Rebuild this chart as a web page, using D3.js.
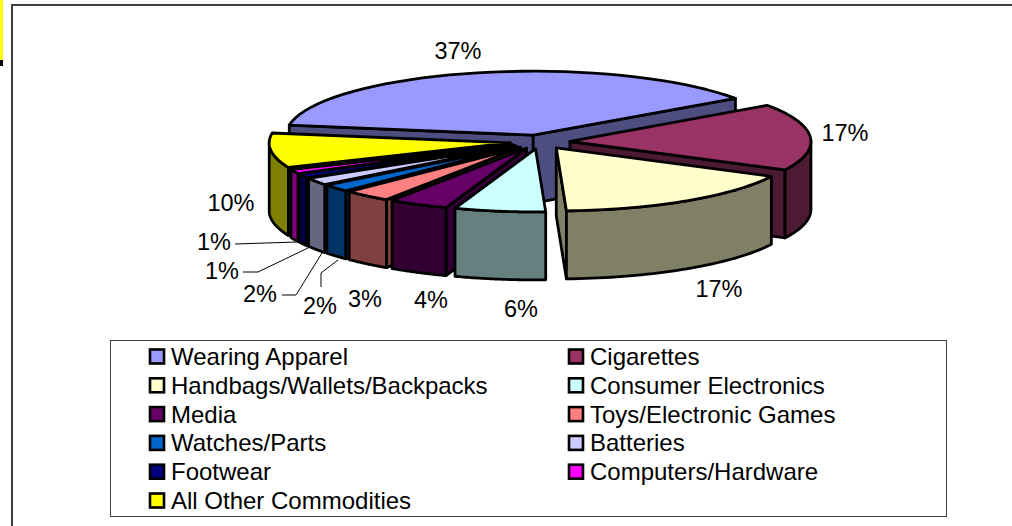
<!DOCTYPE html>
<html>
<head>
<meta charset="utf-8">
<script src="https://cdn.jsdelivr.net/npm/d3@7"></script>
<style>
  html, body { margin: 0; padding: 0; background: #fff; overflow: hidden; }
  text { font-family: "Liberation Sans", Arial, sans-serif; fill: #000; }
</style>
</head>
<body>
<script>
// chart data
const categories = ["Wearing Apparel", "Cigarettes", "Handbags/Wallets/Backpacks", "Consumer Electronics",
  "Media", "Toys/Electronic Games", "Watches/Parts", "Batteries", "Footwear", "Computers/Hardware",
  "All Other Commodities"];
// sizes as drawn on the pie, the printed labels are below
const shares = [37.8, 17.2, 16.9, 6.1, 4.0, 3.2, 1.9, 1.9, 1.1, 1.1, 8.9];
const shareLabels = ["37%", "17%", "17%", "6%", "4%", "3%", "2%", "2%", "1%", "1%", "10%"];
const topColors = ["#9999FF", "#993366", "#FFFFCC", "#CCFFFF", "#660066", "#FF8080", "#0066CC", "#CCCCFF", "#000080", "#FF00FF", "#FFFF00"];

const width = 1012, height = 526;
const cx = 540, cy = 142;      // pie centre
const rx = 241, ry = 63;       // top face ellipse
const depth = 68;              // wall height
const explodeX = 30, explodeY = 7;

let svg = d3.select("body").append("svg")
  .attr("width", width)
  .attr("height", height)
  .style("display", "block");

// bits of the slide behind the chart
svg.append("rect").attr("x", 0).attr("y", 0).attr("width", 3).attr("height", 60).attr("fill", "#FFFF00");
svg.append("rect").attr("x", 0).attr("y", 60).attr("width", 3).attr("height", 6).attr("fill", "#000");

// chart frame
svg.append("path")
  .attr("d", `M12,${height}V5H${width}`)
  .attr("fill", "none")
  .attr("stroke", "#404040")
  .attr("stroke-width", 2);

const rad = d => d * Math.PI / 180;

let pie = d3.pie()
  .sort(null)
  .value(d => d)
  .startAngle(rad(-81))
  .endAngle(rad(279));

let slices = pie(shares).map((s, i) => {
  let mid = (s.startAngle + s.endAngle) / 2;
  return {
    i: i,
    a0: s.startAngle,
    a1: s.endAngle,
    mid: mid,
    // the big slice is a touch wider in the original
    rx: i === 0 ? 247 : rx,
    ry: i === 0 ? 64 : ry,
    ox: cx + explodeX * Math.sin(mid),
    oy: cy - explodeY * Math.cos(mid)
  };
});

const outer = (s, a, drop) => [s.ox + s.rx * Math.sin(a), s.oy - s.ry * Math.cos(a) + (drop || 0)];
const arcPts = (s, a0, a1, drop) =>
  d3.range(0, 41).map(k => outer(s, a0 + (a1 - a0) * k / 40, drop));
const line = d3.line();

// back to front so the nearer slices cover the others
slices.sort((p, q) => d3.ascending(-Math.cos(p.mid), -Math.cos(q.mid)));

let pieG = svg.append("g")
  .attr("stroke", "#000")
  .attr("stroke-width", 2.8)
  .attr("stroke-linejoin", "round");

slices.forEach(s => {
  let top = d3.color(topColors[s.i]);
  let side = d3.rgb(top.r / 2, top.g / 2, top.b / 2).formatHex();
  let g = pieG.append("g");

  // radial walls that face the viewer
  let edges = [];
  if (Math.sin(s.a0) < 0) edges.push(s.a0);
  if (Math.sin(s.a1) > 0) edges.push(s.a1);
  edges.forEach(a => {
    let o = outer(s, a);
    g.append("path")
      .attr("d", line([[s.ox, s.oy], o, [o[0], o[1] + depth], [s.ox, s.oy + depth]]) + "Z")
      .attr("fill", side);
  });

  // rim, only the part on the near side
  let from = Math.max(s.a0, Math.PI / 2), to = Math.min(s.a1, Math.PI * 1.5);
  if (from < to) {
    let pts = arcPts(s, from, to).concat(arcPts(s, to, from, depth));
    g.append("path").attr("d", line(pts) + "Z").attr("fill", side);
  }

  // top face
  g.append("path")
    .attr("d", line([[s.ox, s.oy]].concat(arcPts(s, s.a0, s.a1))) + "Z")
    .attr("fill", top.formatHex());
});

// data labels, placed by hand like the original
const labelSpots = [[458, 51], [845, 133], [719, 289], [521, 309], [431, 300], [365, 299],
  [320, 306], [260, 294], [222, 271], [214, 242], [231, 203]];

svg.append("g").selectAll("text")
  .data(shareLabels)
  .join("text")
  .attr("x", (d, i) => labelSpots[i][0])
  .attr("y", (d, i) => labelSpots[i][1])
  .attr("text-anchor", "middle")
  .attr("dominant-baseline", "central")
  .attr("font-size", 23.5)
  .text(d => d);

// leader lines for the small slices
const leaders = [
  [[321, 287], [321, 273], [338, 260]],
  [[282, 295], [296, 295], [322, 253]],
  [[243, 272], [258, 272], [308, 248]],
  [[235, 244], [297, 242]]
];
svg.append("g").selectAll("path")
  .data(leaders)
  .join("path")
  .attr("d", line)
  .attr("fill", "none")
  .attr("stroke", "#000")
  .attr("stroke-width", 1);

// legend
svg.append("rect")
  .attr("x", 110.5).attr("y", 340.5)
  .attr("width", 836).attr("height", 176)
  .attr("fill", "#fff")
  .attr("stroke", "#404040")
  .attr("stroke-width", 1);

const col = d3.scaleOrdinal().domain([0, 1]).range([150, 569]);
const row = d3.scaleLinear().domain([0, 5]).range([356.5, 500.5]);

let items = svg.append("g").selectAll("g")
  .data(categories)
  .join("g")
  .attr("transform", (d, i) => `translate(${col(i % 2)},${row(Math.floor(i / 2))})`);

items.append("rect")
  .attr("x", 0).attr("y", -7)
  .attr("width", 14).attr("height", 14)
  .attr("fill", (d, i) => topColors[i])
  .attr("stroke", "#000")
  .attr("stroke-width", 2.6);

items.append("text")
  .attr("x", 21)
  .attr("dominant-baseline", "central")
  .attr("font-size", 24)
  .text(d => d);
</script>
</body>
</html>
